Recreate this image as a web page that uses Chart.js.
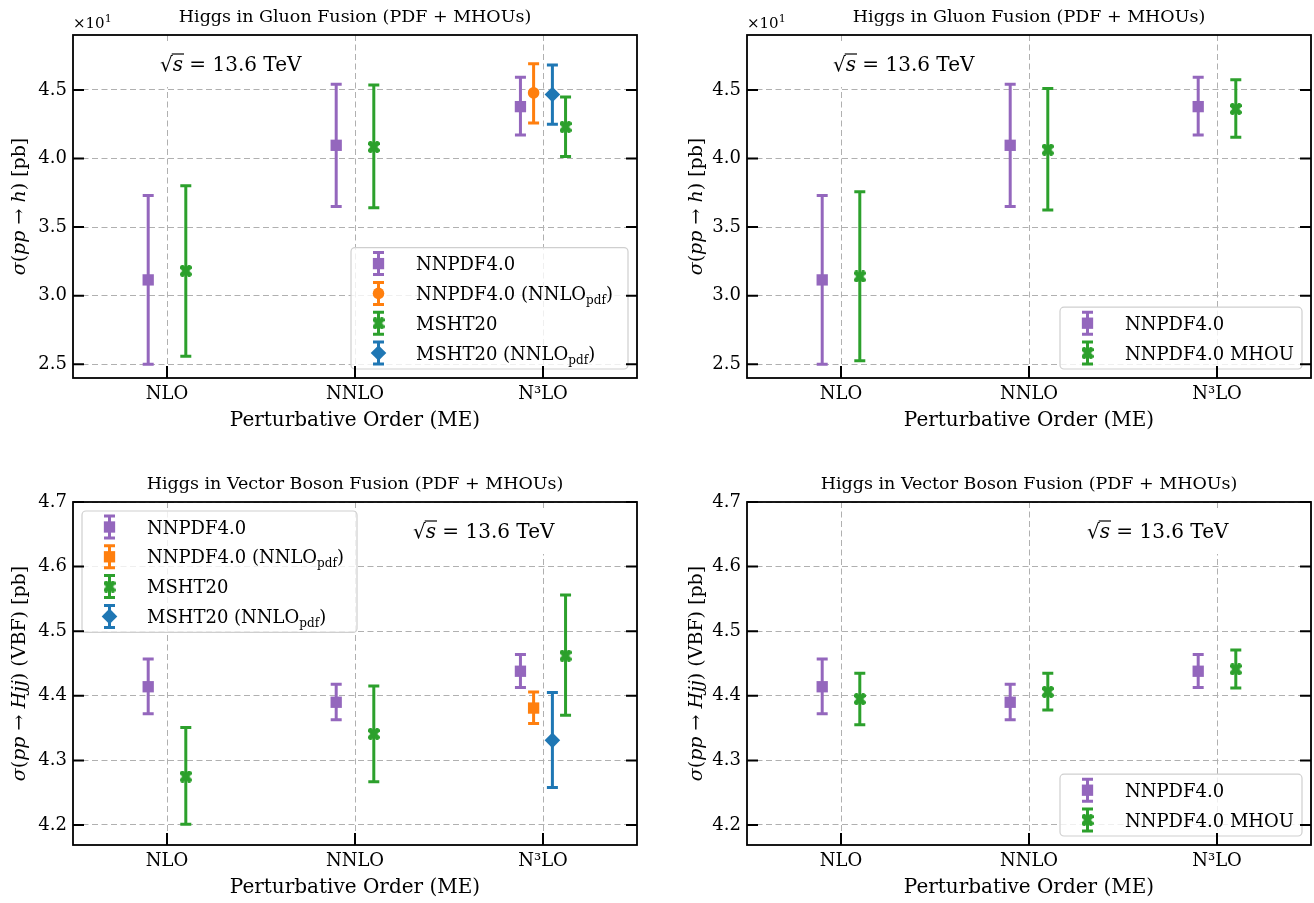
<!DOCTYPE html>
<html>
<head>
<meta charset="utf-8">
<script src="https://cdn.jsdelivr.net/npm/chart.js@4.4.1/dist/chart.umd.min.js"></script>
<style>
  body { margin: 0; background: #fff; }
  canvas { position: absolute; }
</style>
</head>
<body>
<canvas id="ggA" width="657" height="451" style="left:0;top:0"></canvas>
<canvas id="ggB" width="657" height="451" style="left:657px;top:0"></canvas>
<canvas id="vbfA" width="657" height="452" style="left:0;top:451px"></canvas>
<canvas id="vbfB" width="657" height="452" style="left:657px;top:451px"></canvas>
<script>
const orders = ['NLO', 'NNLO', 'N³LO'];

// gluon fusion, sigma(pp -> h) in pb
const ggNnpdf = [31.15, 40.96, 43.78];
const ggNnpdfLo = [25.0, 36.5, 41.72];
const ggNnpdfHi = [37.3, 45.41, 45.92];
const ggNnpdfNnlo = [null, null, 44.78];
const ggNnpdfNnloLo = [null, null, 42.59];
const ggNnpdfNnloHi = [null, null, 46.9];
const ggMsht = [31.81, 40.84, 42.3];
const ggMshtLo = [25.58, 36.41, 40.15];
const ggMshtHi = [38.01, 45.36, 44.49];
const ggMshtNnlo = [null, null, 44.66];
const ggMshtNnloLo = [null, null, 42.49];
const ggMshtNnloHi = [null, null, 46.82];
const ggMhou = [31.4, 40.64, 43.61];
const ggMhouLo = [25.26, 36.24, 41.54];
const ggMhouHi = [37.58, 45.1, 45.73];
const ggTicks = [25, 30, 35, 40, 45];

// vector boson fusion, sigma(pp -> Hjj) in pb
const vbfNnpdf = [4.414, 4.390, 4.438];
const vbfNnpdfLo = [4.372, 4.363, 4.413];
const vbfNnpdfHi = [4.457, 4.418, 4.464];
const vbfNnpdfNnlo = [null, null, 4.381];
const vbfNnpdfNnloLo = [null, null, 4.357];
const vbfNnpdfNnloHi = [null, null, 4.406];
const vbfMsht = [4.275, 4.341, 4.462];
const vbfMshtLo = [4.201, 4.267, 4.370];
const vbfMshtHi = [4.351, 4.415, 4.556];
const vbfMshtNnlo = [null, null, 4.331];
const vbfMshtNnloLo = [null, null, 4.258];
const vbfMshtNnloHi = [null, null, 4.405];
const vbfMhou = [4.395, 4.406, 4.441];
const vbfMhouLo = [4.355, 4.378, 4.412];
const vbfMhouHi = [4.435, 4.435, 4.471];
const vbfTicks = [4.2, 4.3, 4.4, 4.5, 4.6, 4.7];

const FONT = '"DejaVu Serif", serif';
const PURPLE = '#9467bd', ORANGE = '#ff7f0e', GREEN = '#2ca02c', BLUE = '#1f77b4';

// filled "X" marker like matplotlib's
function xMarker(color, s) {
  const c = document.createElement('canvas');
  c.width = s; c.height = s;
  const g = c.getContext('2d');
  g.fillStyle = color;
  g.translate(s / 2, s / 2);
  g.rotate(Math.PI / 4);
  const a = s * 0.6, t = s * 0.42;
  g.fillRect(-a, -t / 2, 2 * a, t);
  g.fillRect(-t / 2, -a, t, 2 * a);
  return c;
}
const greenX = xMarker(GREEN, 12);

const lblNnpdf = [{t: 'NNPDF4.0'}];
const lblNnpdfNnlo = [{t: 'NNPDF4.0 (NNLO'}, {t: 'pdf', s: 12, dy: 4}, {t: ')'}];
const lblMsht = [{t: 'MSHT20'}];
const lblMshtNnlo = [{t: 'MSHT20 (NNLO'}, {t: 'pdf', s: 12, dy: 4}, {t: ')'}];
const lblMhou = [{t: 'NNPDF4.0 MHOU'}];

const ggYLabel = [{t: 'σ', i: 1}, {t: '('}, {t: 'pp', i: 1}, {t: ' → '}, {t: 'h', i: 1}, {t: ') [pb]'}];
const vbfYLabel = [{t: 'σ', i: 1}, {t: '('}, {t: 'pp', i: 1}, {t: ' → '}, {t: 'Hjj', i: 1}, {t: ') (VBF) [pb]'}];

const L = [-0.1, -0.1, -0.1], R = [0.1, 0.1, 0.1];
const L4 = [-0.1, -0.1, -0.12], LM4 = [0, 0, -0.05], RM4 = [0, 0, 0.05], R4 = [0.1, 0.1, 0.12];

function font(s, size) {
  return (s.i ? 'italic ' : '') + (s.s || size) + 'px ' + FONT;
}

function rich(ctx, segs, x, y, size, align) {
  let w = 0;
  segs.forEach(s => { ctx.font = font(s, size); s.w = ctx.measureText(s.t).width; w += s.w; });
  let cx = align === 'center' ? x - w / 2 : x;
  segs.forEach(s => { ctx.font = font(s, size); ctx.fillText(s.t, cx, y + (s.dy || 0)); cx += s.w; });
  return w;
}

function marker(ctx, style, r, x, y) {
  if (typeof style === 'object') {
    ctx.drawImage(style, x - style.width / 2, y - style.height / 2);
    return;
  }
  ctx.beginPath();
  if (style === 'rect') {
    const h = Math.SQRT1_2 * r;
    ctx.rect(x - h, y - h, 2 * h, 2 * h);
  } else if (style === 'rectRot') {
    ctx.moveTo(x, y - r); ctx.lineTo(x + r, y); ctx.lineTo(x, y + r); ctx.lineTo(x - r, y);
    ctx.closePath();
  } else {
    ctx.arc(x, y, r, 0, Math.PI * 2);
  }
  ctx.fill();
}

function errBar(ctx, x, y1, y2, cap) {
  ctx.beginPath();
  ctx.moveTo(x, y1); ctx.lineTo(x, y2);
  ctx.moveTo(x - cap, y1); ctx.lineTo(x + cap, y1);
  ctx.moveTo(x - cap, y2); ctx.lineTo(x + cap, y2);
  ctx.stroke();
}

const panelPlugin = {
  id: 'panel',
  beforeDatasetsDraw(chart) {
    const ctx = chart.ctx, ys = chart.scales.y;
    ctx.save();
    ctx.lineWidth = 3;
    chart.data.datasets.forEach((ds, k) => {
      const meta = chart.getDatasetMeta(k);
      ctx.strokeStyle = ds.borderColor;
      meta.data.forEach((pt, j) => {
        const raw = ds.data[j];
        errBar(ctx, pt.x, ys.getPixelForValue(raw.lo), ys.getPixelForValue(raw.hi), 5.5);
      });
    });
    ctx.restore();
  },
  afterDraw(chart, args, o) {
    const ctx = chart.ctx, a = chart.chartArea;
    const xs = chart.scales.x, ys = chart.scales.y;
    ctx.save();
    ctx.fillStyle = '#000';
    ctx.textBaseline = 'alphabetic';
    ctx.textAlign = 'left';

    // sqrt(s) annotation with white box
    const ax = a.left + o.annX, ab = a.top + 35.5;
    ctx.font = '20px ' + FONT;
    const wRad = ctx.measureText('√').width;
    ctx.font = 'italic 20px ' + FONT;
    const wS = ctx.measureText('s').width;
    ctx.font = '20px ' + FONT;
    const wRest = ctx.measureText(' = 13.6 TeV').width;
    ctx.fillStyle = '#fff';
    ctx.fillRect(ax - 6, a.top + 8, wRad + wS + wRest + 12, 44);
    ctx.fillStyle = '#000';
    ctx.fillText('√', ax, ab);
    ctx.font = 'italic 20px ' + FONT;
    ctx.fillText('s', ax + wRad, ab);
    ctx.font = '20px ' + FONT;
    ctx.fillText(' = 13.6 TeV', ax + wRad + wS, ab);
    ctx.lineWidth = 1.2;
    ctx.strokeStyle = '#000';
    ctx.beginPath();
    ctx.moveTo(ax + wRad - 1, ab - 16.5);
    ctx.lineTo(ax + wRad + wS + 1, ab - 16.5);
    ctx.stroke();

    // legend
    const ds = chart.data.datasets;
    const lh = 16 + 29.8 * (ds.length - 1) + 16;
    const lx = o.legend.corner === 'lr' ? a.right - 9 - o.legend.w : a.left + 9;
    const ly = o.legend.corner === 'lr' ? a.bottom - 9 - lh : a.top + 9;
    ctx.beginPath();
    ctx.roundRect(lx, ly, o.legend.w, lh, 4);
    ctx.fillStyle = 'rgba(255,255,255,0.8)';
    ctx.fill();
    ctx.strokeStyle = '#cfcfcf';
    ctx.lineWidth = 1.2;
    ctx.stroke();
    ds.forEach((d, k) => {
      const cy = ly + 16 + 29.8 * k;
      ctx.strokeStyle = d.borderColor;
      ctx.fillStyle = d.borderColor;
      ctx.lineWidth = 3;
      errBar(ctx, lx + 27.5, cy - 11, cy + 11, 5.5);
      marker(ctx, d.pointStyle, d.pointRadius, lx + 27.5, cy);
      ctx.fillStyle = '#000';
      rich(ctx, d.segs, lx + 65, cy + 6.5, 18, 'left');
    });

    // frame and inward ticks
    ctx.strokeStyle = '#000';
    ctx.lineWidth = 1.8;
    ctx.strokeRect(a.left, a.top, a.right - a.left, a.bottom - a.top);
    ctx.lineWidth = 2;
    ctx.beginPath();
    o.ticks.forEach(v => {
      const py = ys.getPixelForValue(v);
      ctx.moveTo(a.left, py); ctx.lineTo(a.left + 11, py);
      ctx.moveTo(a.right - 11, py); ctx.lineTo(a.right, py);
    });
    [0, 1, 2].forEach(v => {
      const px = xs.getPixelForValue(v);
      ctx.moveTo(px, a.bottom); ctx.lineTo(px, a.bottom - 12);
    });
    ctx.stroke();

    // titles
    ctx.fillStyle = '#000';
    ctx.textAlign = 'center';
    ctx.textBaseline = 'middle';
    ctx.font = '17.5px ' + FONT;
    ctx.fillText(o.title, (a.left + a.right) / 2, a.top - 17.5);
    ctx.font = '20px ' + FONT;
    ctx.fillText('Perturbative Order (ME)', (a.left + a.right) / 2, a.bottom + 43);
    ctx.textAlign = 'left';
    ctx.textBaseline = 'alphabetic';
    if (o.offset) {
      rich(ctx, [{t: '×10'}, {t: '1', s: 11, dy: -6}], a.left, a.top - 7, 15, 'left');
    }
    ctx.translate(a.left - o.yLabX, (a.top + a.bottom) / 2);
    ctx.rotate(-Math.PI / 2);
    rich(ctx, o.yLabel, 0, 6.5, 19, 'center');
    ctx.restore();
  }
};

function makeChart(id, p) {
  const datasets = p.series.map(s => {
    const pts = [];
    s.vals.forEach((v, i) => {
      if (v !== null) pts.push({x: i + s.shift[i], y: v, lo: s.lo[i], hi: s.hi[i]});
    });
    return {
      label: s.segs.map(g => g.t).join(''),
      segs: s.segs,
      data: pts,
      backgroundColor: s.color,
      borderColor: s.color,
      pointStyle: s.marker,
      pointRadius: s.r,
      pointHoverRadius: s.r,
      pointBorderWidth: 0,
      showLine: false
    };
  });
  return new Chart(document.getElementById(id), {
    type: 'scatter',
    data: {datasets},
    plugins: [panelPlugin],
    options: {
      responsive: false,
      animation: false,
      devicePixelRatio: 1,
      events: [],
      layout: {autoPadding: false, padding: {left: 0, top: p.padTop, right: p.padRight, bottom: 0}},
      plugins: {
        legend: {display: false},
        tooltip: {enabled: false},
        panel: {
          title: p.title, yLabel: p.yLabel, yLabX: p.yLabX, annX: p.annX,
          legend: p.legend, ticks: p.ticks, offset: p.offset
        }
      },
      scales: {
        x: {
          type: 'linear', min: -0.5, max: 2.5,
          afterBuildTicks: ax => { ax.ticks = [0, 1, 2].map(v => ({value: v})); },
          afterFit: ax => { ax.height = p.xh; },
          grid: {color: '#b0b0b0', lineWidth: 1, drawTicks: false},
          border: {display: false, dash: [6, 3.5]},
          ticks: {color: '#000', padding: 6, font: {family: FONT, size: 18}, callback: v => orders[v]}
        },
        y: {
          min: p.ymin, max: p.ymax,
          afterBuildTicks: ax => { ax.ticks = p.ticks.map(v => ({value: v})); },
          afterFit: ax => { ax.width = p.yw; },
          grid: {color: '#b0b0b0', lineWidth: 1, drawTicks: false},
          border: {display: false, dash: [6, 3.5]},
          ticks: {color: '#000', padding: 6, font: {family: FONT, size: 18}, callback: p.fmt}
        }
      }
    }
  });
}

const ggFmt = v => (v / 10).toFixed(1);
const vbfFmt = v => v.toFixed(1);

makeChart('ggA', {
  padTop: 35, padRight: 20, yw: 73, xh: 73, ymin: 24, ymax: 49, ticks: ggTicks, fmt: ggFmt, offset: true,
  title: 'Higgs in Gluon Fusion (PDF + MHOUs)', yLabel: ggYLabel, yLabX: 55, annX: 87,
  legend: {corner: 'lr', w: 277},
  series: [
    {segs: lblNnpdf, color: PURPLE, marker: 'rect', r: 8, vals: ggNnpdf, lo: ggNnpdfLo, hi: ggNnpdfHi, shift: L4},
    {segs: lblNnpdfNnlo, color: ORANGE, marker: 'circle', r: 5.8, vals: ggNnpdfNnlo, lo: ggNnpdfNnloLo, hi: ggNnpdfNnloHi, shift: LM4},
    {segs: lblMsht, color: GREEN, marker: greenX, r: 6, vals: ggMsht, lo: ggMshtLo, hi: ggMshtHi, shift: R4},
    {segs: lblMshtNnlo, color: BLUE, marker: 'rectRot', r: 7.8, vals: ggMshtNnlo, lo: ggMshtNnloLo, hi: ggMshtNnloHi, shift: RM4}
  ]
});

makeChart('ggB', {
  padTop: 35, padRight: 3, yw: 90, xh: 73, ymin: 24, ymax: 49, ticks: ggTicks, fmt: ggFmt, offset: true,
  title: 'Higgs in Gluon Fusion (PDF + MHOUs)', yLabel: ggYLabel, yLabX: 52, annX: 86,
  legend: {corner: 'lr', w: 242},
  series: [
    {segs: lblNnpdf, color: PURPLE, marker: 'rect', r: 8, vals: ggNnpdf, lo: ggNnpdfLo, hi: ggNnpdfHi, shift: L},
    {segs: lblMhou, color: GREEN, marker: greenX, r: 6, vals: ggMhou, lo: ggMhouLo, hi: ggMhouHi, shift: R}
  ]
});

makeChart('vbfA', {
  padTop: 51, padRight: 20, yw: 73, xh: 58, ymin: 4.169, ymax: 4.7, ticks: vbfTicks, fmt: vbfFmt, offset: false,
  title: 'Higgs in Vector Boson Fusion (PDF + MHOUs)', yLabel: vbfYLabel, yLabX: 55, annX: 340,
  legend: {corner: 'ul', w: 275},
  series: [
    {segs: lblNnpdf, color: PURPLE, marker: 'rect', r: 8, vals: vbfNnpdf, lo: vbfNnpdfLo, hi: vbfNnpdfHi, shift: L4},
    {segs: lblNnpdfNnlo, color: ORANGE, marker: 'rect', r: 8, vals: vbfNnpdfNnlo, lo: vbfNnpdfNnloLo, hi: vbfNnpdfNnloHi, shift: LM4},
    {segs: lblMsht, color: GREEN, marker: greenX, r: 6, vals: vbfMsht, lo: vbfMshtLo, hi: vbfMshtHi, shift: R4},
    {segs: lblMshtNnlo, color: BLUE, marker: 'rectRot', r: 7.8, vals: vbfMshtNnlo, lo: vbfMshtNnloLo, hi: vbfMshtNnloHi, shift: RM4}
  ]
});

makeChart('vbfB', {
  padTop: 51, padRight: 3, yw: 90, xh: 58, ymin: 4.169, ymax: 4.7, ticks: vbfTicks, fmt: vbfFmt, offset: false,
  title: 'Higgs in Vector Boson Fusion (PDF + MHOUs)', yLabel: vbfYLabel, yLabX: 52, annX: 340,
  legend: {corner: 'lr', w: 242},
  series: [
    {segs: lblNnpdf, color: PURPLE, marker: 'rect', r: 8, vals: vbfNnpdf, lo: vbfNnpdfLo, hi: vbfNnpdfHi, shift: L},
    {segs: lblMhou, color: GREEN, marker: greenX, r: 6, vals: vbfMhou, lo: vbfMhouLo, hi: vbfMhouHi, shift: R}
  ]
});
</script>
</body>
</html>
